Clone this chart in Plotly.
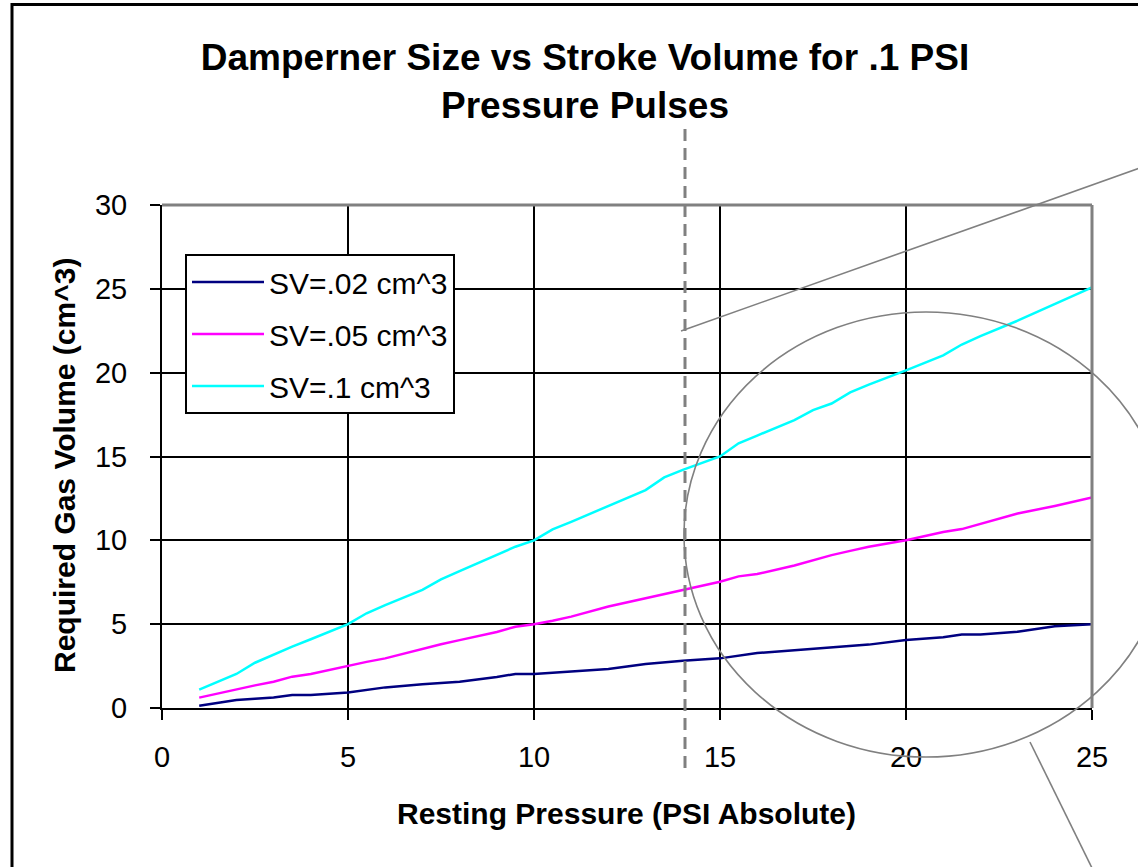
import plotly.graph_objects as go

# ---------------- data ----------------
pressure = [1, 2, 2.5, 3, 3.5, 4, 5, 5.5, 6, 7, 7.5, 8, 9, 9.5, 10, 10.5, 11, 12, 13,
            13.5, 14, 15, 15.5, 16, 17, 17.5, 18, 18.5, 19, 20, 21, 21.5, 22, 23, 24, 25]
sv_002 = [0.14, 0.48, 0.55, 0.62, 0.78, 0.78, 0.93, 1.08, 1.23, 1.41, 1.49, 1.57, 1.85,
          2.03, 2.03, 2.10, 2.17, 2.33, 2.62, 2.72, 2.82, 2.96, 3.10, 3.28, 3.45, 3.53,
          3.62, 3.70, 3.78, 4.05, 4.22, 4.38, 4.38, 4.55, 4.88, 5.00]
sv_005 = [0.62, 1.13, 1.35, 1.57, 1.87, 2.03, 2.52, 2.75, 2.96, 3.55, 3.80, 4.05, 4.53,
          4.85, 4.99, 5.20, 5.45, 6.05, 6.55, 6.80, 7.05, 7.53, 7.85, 7.99, 8.50, 8.80,
          9.12, 9.37, 9.62, 10.00, 10.50, 10.67, 10.97, 11.60, 12.05, 12.55]
sv_01 = [1.09, 2.03, 2.70, 3.20, 3.66, 4.10, 5.00, 5.65, 6.14, 7.04, 7.67, 8.17, 9.12,
         9.62, 10.00, 10.65, 11.10, 12.05, 13.00, 13.75, 14.20, 15.00, 15.79, 16.25,
         17.17, 17.77, 18.16, 18.82, 19.29, 20.14, 21.03, 21.68, 22.18, 23.10, 24.10, 25.09]

series_names = ["SV=.02 cm^3", "SV=.05 cm^3", "SV=.1 cm^3"]
series_values = [sv_002, sv_005, sv_01]
series_colors = ["#000080", "#FF00FF", "#00FFFF"]

x_ticks = [0, 5, 10, 15, 20, 25]
y_ticks = [0, 5, 10, 15, 20, 25, 30]

title_text = "Damperner Size vs Stroke Volume for .1 PSI<br>Pressure Pulses"
x_title = "Resting Pressure (PSI Absolute)"
y_title = "Required Gas Volume (cm^3)"

# ---------------- layout geometry ----------------
W, H = 1138, 867
L, R, T, B = 162, 46, 205, 159
PW, PH = W - L - R, H - T - B
FONT = "Liberation Sans, Arial, sans-serif"
GRAY = "#808080"


def px(xp):
    return (xp - L) / PW


def py(yp):
    return (H - B - yp) / PH


fig = go.Figure()
for i, (name, vals, col) in enumerate(zip(series_names, series_values, series_colors)):
    fig.add_trace(go.Scatter(
        x=pressure, y=vals, mode="lines", name=name,
        line=dict(color=col, width=2.5), legendgroup=f"g{i}",
    ))

shapes = []
# gray top and right border of plot area
shapes.append(dict(type="line", xref="paper", yref="paper", x0=0, x1=1, y0=1, y1=1,
                   line=dict(color=GRAY, width=3), layer="above"))
shapes.append(dict(type="line", xref="paper", yref="paper", x0=1, x1=1, y0=0, y1=1,
                   line=dict(color=GRAY, width=3), layer="above"))
# dashed vertical marker
shapes.append(dict(type="line", xref="paper", yref="paper", x0=px(685), x1=px(685),
                   y0=py(129), y1=py(774), line=dict(color=GRAY, width=3, dash="12px,7px"),
                   layer="above"))
# magnifier ellipse
shapes.append(dict(type="circle", xref="paper", yref="paper",
                   x0=px(684), x1=px(1168), y0=py(757), y1=py(312),
                   line=dict(color=GRAY, width=1.6), layer="above"))
# callout lines
shapes.append(dict(type="line", xref="paper", yref="paper", x0=px(681), y0=py(331),
                   x1=px(1140), y1=py(168), line=dict(color=GRAY, width=1.6), layer="above"))
shapes.append(dict(type="line", xref="paper", yref="paper", x0=px(1030), y0=py(742),
                   x1=px(1092), y1=py(868), line=dict(color=GRAY, width=1.6), layer="above"))
# outer chart frame (left and top)
shapes.append(dict(type="line", xref="paper", yref="paper", x0=px(12), x1=px(12),
                   y0=py(3), y1=py(870), line=dict(color="black", width=3), layer="above"))
shapes.append(dict(type="line", xref="paper", yref="paper", x0=px(11), x1=px(1140),
                   y0=py(4.5), y1=py(4.5), line=dict(color="black", width=3), layer="above"))

annotations = [
    dict(text=f"<b>{x_title}</b>", xref="paper", yref="paper", x=px(626), y=py(813),
         xanchor="center", yanchor="middle", showarrow=False,
         font=dict(family=FONT, size=30, color="black")),
    dict(text=f"<b>{y_title}</b>", xref="paper", yref="paper", x=px(64), y=py(466),
         xanchor="center", yanchor="middle", showarrow=False, textangle=-90,
         font=dict(family=FONT, size=30, color="black")),
]

fig.update_layout(
    width=W, height=H,
    margin=dict(l=L, r=R, t=T, b=B, pad=0),
    paper_bgcolor="white", plot_bgcolor="white",
    title=dict(text=f"<b>{title_text}</b>", x=585 / W, xanchor="center",
               y=1 - 70 / H, yanchor="middle", yref="container",
               font=dict(family=FONT, size=37, color="black")),
    font=dict(family=FONT, size=29, color="black"),
    shapes=shapes,
    annotations=annotations,
    showlegend=True,
    legend=dict(x=px(185), y=py(254), xanchor="left", yanchor="top",
                bgcolor="white", bordercolor="black", borderwidth=2,
                font=dict(family=FONT, size=30, color="black"),
                itemwidth=72, tracegroupgap=10, traceorder="grouped"),
    xaxis=dict(range=[0, 25], tickvals=x_ticks, ticktext=[str(v) for v in x_ticks],
               showgrid=True, gridcolor="black", gridwidth=2,
               showline=True, linecolor="black", linewidth=2,
               ticks="outside", ticklen=10, tickwidth=2, tickcolor="black",
               zeroline=False, ticklabelstandoff=12,
               tickfont=dict(family=FONT, size=29, color="black")),
    yaxis=dict(range=[0, 30], tickvals=y_ticks, ticktext=[str(v) for v in y_ticks],
               showgrid=True, gridcolor="black", gridwidth=2,
               showline=True, linecolor="black", linewidth=2,
               ticks="outside", ticklen=10, tickwidth=2, tickcolor="black",
               zeroline=False, ticklabelstandoff=17,
               tickfont=dict(family=FONT, size=29, color="black")),
)

fig.write_html("out.html")
